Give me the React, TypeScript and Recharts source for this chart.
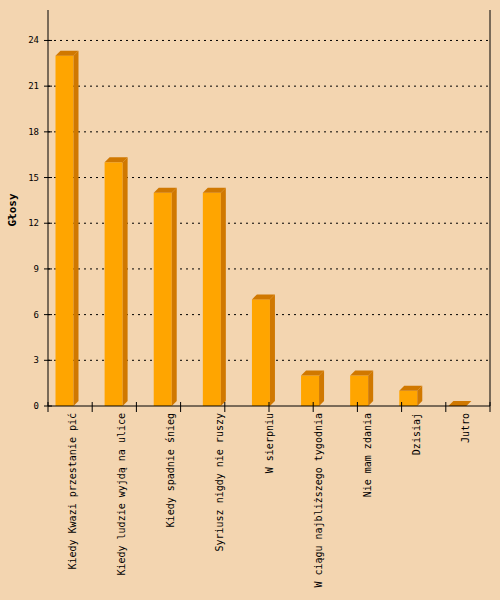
import React from "react";
import { BarChart, Bar, XAxis, YAxis, CartesianGrid } from "recharts";

const categories = [
  "Kiedy Kwazi przestanie pić",
  "Kiedy ludzie wyjdą na ulice",
  "Kiedy spadnie śnieg",
  "Syriusz nigdy nie ruszy",
  "W sierpniu",
  "W ciągu najbliższego tygodnia",
  "Nie mam zdania",
  "Dzisiaj",
  "Jutro",
];
const votes = [23, 16, 14, 14, 7, 2, 2, 1, 0];
const yTicks = [0, 3, 6, 9, 12, 15, 18, 21, 24];
const gridValues = [3, 6, 9, 12, 15, 18, 21, 24];
const xTickSteps = [0, 1, 2, 3, 4, 5, 6, 7, 8, 9, 10];

const data = categories.map((name, i) => ({ name, votes: votes[i] }));

const BG = "#F3D5B0";
const FRONT = "#FFA500";
const DARK = "#D07800";
const MONO = "'DejaVu Sans Mono', monospace";

const Bar3D = (props: any) => {
  const { x, y, width, height } = props;
  const d = 5;
  const bx = x - 8.5;
  const w = width;
  return (
    <g>
      {height > 0 && <rect x={bx} y={y} width={w} height={height} fill={FRONT} />}
      <polygon
        points={`${bx},${y} ${bx + d},${y - d} ${bx + w + d},${y - d} ${bx + w},${y}`}
        fill={DARK}
      />
      {height > 0 && (
        <polygon
          points={`${bx + w},${y} ${bx + w + d},${y - d} ${bx + w + d},${y + height - d} ${bx + w},${y + height}`}
          fill={DARK}
        />
      )}
    </g>
  );
};

const YTick = (props: any) => {
  const { x, y, payload } = props;
  return (
    <g>
      <line x1={x - 4} x2={x + 4} y1={y} y2={y} stroke="#000" />
      <text x={x - 9} y={y} textAnchor="end" dominantBaseline="central" fontSize={9} fontFamily={MONO} fill="#000">
        {payload.value}
      </text>
    </g>
  );
};

const StepTick = (props: any) => {
  const { x, y } = props;
  return <line x1={x} x2={x} y1={y - 4} y2={y + 6} stroke="#000" />;
};

const NameTick = (props: any) => {
  const { x, y, payload } = props;
  const ty = y + 6;
  return (
    <text
      x={x}
      y={ty}
      transform={`rotate(-90 ${x} ${ty})`}
      textAnchor="end"
      dominantBaseline="central"
      fontSize={10}
      fontFamily={MONO}
      fill="#000"
    >
      {payload.value}
    </text>
  );
};

export default function App() {
  return (
    <div style={{ position: "absolute", left: 0, top: 0, width: 500, height: 600, background: BG }}>
      <BarChart width={500} height={600} data={data} margin={{ top: 10, right: 0, bottom: 0, left: 0 }}>
        <CartesianGrid vertical={false} horizontalValues={gridValues} stroke="#000" strokeDasharray="2 4" />
        <XAxis
          xAxisId={0}
          type="number"
          dataKey="step"
          domain={[0, 10]}
          allowDataOverflow
          ticks={xTickSteps}
          interval={0}
          height={1}
          axisLine={{ stroke: "#000" }}
          tickLine={false}
          tickSize={0}
          tickMargin={0}
          tick={<StepTick />}
        />
        <XAxis
          xAxisId="names"
          dataKey="name"
          height={193}
          interval={0}
          axisLine={false}
          tickLine={false}
          tickSize={0}
          tickMargin={0}
          tick={<NameTick />}
        />
        <YAxis
          width={48}
          domain={[0, 26]}
          ticks={yTicks}
          axisLine={{ stroke: "#000" }}
          tickLine={false}
          tickSize={0}
          tickMargin={0}
          tick={<YTick />}
          label={{
            content: () => (
              <text
                x={12}
                y={210}
                transform="rotate(-90 12 210)"
                textAnchor="middle"
                dominantBaseline="central"
                fontSize={11}
                fontWeight="bold"
                fontFamily={MONO}
                fill="#000"
              >
                Głosy
              </text>
            ),
          }}
        />
        <YAxis yAxisId="r" orientation="right" width={10} tick={false} tickLine={false} axisLine={{ stroke: "#000" }} />
        <Bar xAxisId="names" dataKey="votes" barSize={18} shape={<Bar3D />} isAnimationActive={false} />
      </BarChart>
    </div>
  );
}
